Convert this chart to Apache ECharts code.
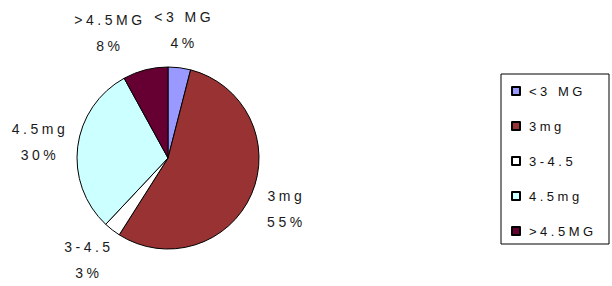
<!DOCTYPE html>
<html>
<head>
<meta charset="utf-8">
<script src="https://cdn.jsdelivr.net/npm/echarts@6/dist/echarts.min.js"></script>
<style>
  html, body { margin: 0; padding: 0; background: #fff; }
  #chart { width: 612px; height: 286px; }
  /* the old chart has very wide letter spacing; svg text picks this up */
  #chart text { letter-spacing: 3.5px; }
</style>
</head>
<body>
<div id="chart"></div>
<script>
  const categories = ['<3 MG', '3mg', '3-4.5', '4.5mg', '>4.5MG'];
  const shares = [4, 55, 3, 30, 8];
  const sliceColors = ['#9999ff', '#993333', '#ffffff', '#ccffff', '#660033'];

  const font = '"Liberation Sans", Arial, sans-serif';

  const chart = echarts.init(document.getElementById('chart'), null, { renderer: 'svg' });

  const option = {
    animation: false,
    color: sliceColors,
    legend: {
      orient: 'vertical',
      left: 501,
      top: 74,
      padding: [10, 7, 6, 10],
      itemWidth: 8,
      itemHeight: 8,
      itemGap: 21,
      icon: 'rect',
      borderColor: '#000',
      borderWidth: 1,
      textStyle: {
        fontFamily: font,
        fontSize: 13,
        color: '#111',
        lineHeight: 14,
        width: 73,
        padding: [0, 0, 0, 4],
      },
      data: categories,
    },
    series: [
      {
        type: 'pie',
        center: [168, 158],
        radius: 91,
        startAngle: 90,
        clockwise: true,
        avoidLabelOverlap: false,
        itemStyle: { borderColor: '#000', borderWidth: 1 },
        emphasis: { disabled: true },
        label: {
          position: 'outside',
          alignTo: 'none',
          distanceToLabelLine: 0,
          fontFamily: font,
          fontSize: 14,
          lineHeight: 26,
          color: '#1a1a1a',
          formatter: (p) => p.name + '\n' + p.value + '%',
        },
        labelLine: { show: false, length: 38, length2: 0 },
        // excel nudged the >4.5MG label left so it clears the <3 MG one
        labelLayout: (p) => ({ align: 'center', verticalAlign: 'middle', dx: p.dataIndex === 4 ? -26 : 0 }),
        data: categories.map((name, i) => ({ name: name, value: shares[i] })),
      },
    ],
  };

  chart.setOption(option);
</script>
</body>
</html>
